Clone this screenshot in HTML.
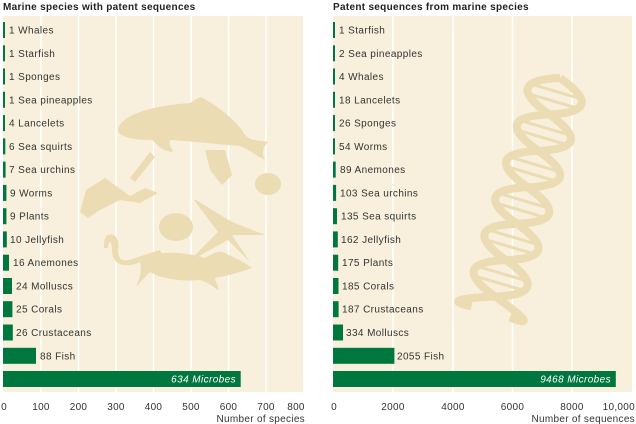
<!DOCTYPE html>
<html><head><meta charset="utf-8"><style>
html,body{margin:0;padding:0;background:#fff;}
svg{display:block;font-family:"Liberation Sans",sans-serif;}
</style></head><body>
<svg width="636" height="424" viewBox="0 0 636 424" xmlns="http://www.w3.org/2000/svg">
<!-- Left panel -->
<text x="3" y="10" font-size="10" font-weight="bold" fill="#222" letter-spacing="0.3">Marine species with patent sequences</text>
<rect x="3" y="16" width="300" height="376" fill="#f8f0dc"/>
<g stroke="#fff" stroke-width="1.5">
<line x1="41" y1="16" x2="41" y2="392"/><line x1="78.5" y1="16" x2="78.5" y2="392"/><line x1="116" y1="16" x2="116" y2="392"/><line x1="153.5" y1="16" x2="153.5" y2="392"/><line x1="191" y1="16" x2="191" y2="392"/><line x1="228.5" y1="16" x2="228.5" y2="392"/><line x1="266" y1="16" x2="266" y2="392"/>
</g>
<g fill="#ebdcb3">
<path d="M118,128 C125,112 160,105 190,103 C198,98 200,96 203,98 C215,105 235,118 245,135 C252,142 260,140 268,142 C262,148 262,155 265,160 C255,155 250,150 240,146 C225,145 200,142 170,140 C168,148 175,150 172,152 C160,150 158,145 152,140 C130,140 116,136 118,128Z"/>
<path d="M145,258 C160,250 185,252 205,258 C215,252 220,250 225,253 C235,258 245,262 252,268 C240,272 228,276 215,278 C215,282 220,288 218,290 C212,286 208,282 200,280 C180,282 160,278 150,272 C142,280 138,285 136,287 C140,278 142,270 140,262 Z"/>
<path d="M196,200 L232,222 L265,235 L232,235 L250,262 L228,240 L188,262 L218,232 L194,200 Z"/>
<ellipse cx="176" cy="227" rx="17" ry="14"/>
<ellipse cx="268" cy="184" rx="13" ry="11"/>
<path d="M86,190 L105,178 L130,196 L145,188 L158,193 L140,203 L120,200 L100,210 L88,218 L80,212 Z"/>
<path d="M130,178 L150,152 L155,157 L135,182Z"/>
<path d="M205,150 L225,150 L232,175 L222,185 L210,170Z"/>
<path d="M108,235 C115,232 120,240 118,250 C118,262 125,262 135,258 L160,250 L162,254 L135,264 C120,268 112,262 112,250 C112,240 108,240 108,248 L104,248 C104,240 105,236 108,235Z"/>
</g>
<g fill="#00773f">
<rect x="3" y="22" width="2" height="16"/><rect x="3" y="45.3" width="2" height="16"/><rect x="3" y="68.5" width="2" height="16"/><rect x="3" y="91.8" width="2" height="16"/>
<rect x="3" y="115.1" width="2" height="16"/><rect x="3" y="138.4" width="2.3" height="16"/><rect x="3" y="161.6" width="2.6" height="16"/><rect x="3" y="184.9" width="3.4" height="16"/>
<rect x="3" y="208.2" width="3.4" height="16"/><rect x="3" y="231.4" width="3.8" height="16"/><rect x="3" y="254.7" width="6" height="16"/><rect x="3" y="278" width="9" height="16"/>
<rect x="3" y="301.2" width="9.4" height="16"/><rect x="3" y="324.5" width="9.8" height="16"/><rect x="3" y="347.8" width="33" height="16"/><rect x="3" y="371" width="237.7" height="16"/>
</g>
<g font-size="10" fill="#333" letter-spacing="0.4">
<text x="9" y="33.5">1 Whales</text><text x="9" y="56.8">1 Starfish</text><text x="9" y="80">1 Sponges</text><text x="9" y="103.3">1 Sea pineapples</text>
<text x="9" y="126.6">4 Lancelets</text><text x="9" y="149.9">6 Sea squirts</text><text x="9" y="173.1">7 Sea urchins</text><text x="10" y="196.4">9 Worms</text>
<text x="10" y="219.7">9 Plants</text><text x="10" y="242.9">10 Jellyfish</text><text x="13" y="266.2">16 Anemones</text><text x="16" y="289.5">24 Molluscs</text>
<text x="16" y="312.7">25 Corals</text><text x="16" y="336">26 Crustaceans</text><text x="40" y="359.3">88 Fish</text>
<text x="236" y="382.5" fill="#fff" font-style="italic" text-anchor="end">634 Microbes</text>
</g>
<g font-size="10" fill="#333" text-anchor="middle" letter-spacing="0.3">
<text x="4" y="410">0</text><text x="41" y="410">100</text><text x="78.5" y="410">200</text><text x="116" y="410">300</text><text x="153.5" y="410">400</text><text x="191" y="410">500</text><text x="228.5" y="410">600</text><text x="266" y="410">700</text><text x="296" y="410">800</text>
<text x="305" y="422" text-anchor="end">Number of species</text>
</g>

<!-- Right panel -->
<text x="333" y="10" font-size="10" font-weight="bold" fill="#222" letter-spacing="0.3">Patent sequences from marine species</text>
<rect x="333" y="16" width="299" height="376" fill="#f8f0dc"/>
<g stroke="#fff" stroke-width="1.5">
<line x1="393" y1="16" x2="393" y2="392"/><line x1="453" y1="16" x2="453" y2="392"/><line x1="512.5" y1="16" x2="512.5" y2="392"/><line x1="572" y1="16" x2="572" y2="392"/>
</g>
<g transform="translate(560,78) rotate(106.5)" fill="none" stroke="#ebdcb3" stroke-width="8">
<path d="M0,0 Q19,-56 38,0 T76,0 T114,0 T152,0 T190,0 T228,0 T244,-20"/>
<path d="M0,0 Q19,56 38,0 T76,0 T114,0 T152,0 T190,0 T228,0 T244,20"/>
<g stroke-width="3">
<line x1="14" y1="-22" x2="14" y2="22"/><line x1="24" y1="-22" x2="24" y2="22"/><line x1="52" y1="-22" x2="52" y2="22"/><line x1="62" y1="-22" x2="62" y2="22"/>
<line x1="90" y1="-22" x2="90" y2="22"/><line x1="100" y1="-22" x2="100" y2="22"/><line x1="128" y1="-22" x2="128" y2="22"/><line x1="138" y1="-22" x2="138" y2="22"/>
<line x1="166" y1="-22" x2="166" y2="22"/><line x1="176" y1="-22" x2="176" y2="22"/><line x1="204" y1="-22" x2="204" y2="22"/><line x1="214" y1="-22" x2="214" y2="22"/>
</g>
</g>
<g fill="#00773f">
<rect x="333" y="22" width="2" height="16"/><rect x="333" y="45.3" width="2" height="16"/><rect x="333" y="68.5" width="2" height="16"/><rect x="333" y="91.8" width="2" height="16"/>
<rect x="333" y="115.1" width="2" height="16"/><rect x="333" y="138.4" width="2" height="16"/><rect x="333" y="161.6" width="2.7" height="16"/><rect x="333" y="184.9" width="3.1" height="16"/>
<rect x="333" y="208.2" width="4" height="16"/><rect x="333" y="231.4" width="4.8" height="16"/><rect x="333" y="254.7" width="5.2" height="16"/><rect x="333" y="278" width="5.5" height="16"/>
<rect x="333" y="301.2" width="5.6" height="16"/><rect x="333" y="324.5" width="10" height="16"/><rect x="333" y="347.8" width="61.4" height="16"/><rect x="333" y="371" width="282.8" height="16"/>
</g>
<g font-size="10" fill="#333" letter-spacing="0.4">
<text x="339" y="33.5">1 Starfish</text><text x="339" y="56.8">2 Sea pineapples</text><text x="339" y="80">4 Whales</text><text x="339" y="103.3">18 Lancelets</text>
<text x="339" y="126.6">26 Sponges</text><text x="339" y="149.9">54 Worms</text><text x="340" y="173.1">89 Anemones</text><text x="340" y="196.4">103 Sea urchins</text>
<text x="341" y="219.7">135 Sea squirts</text><text x="341" y="242.9">162 Jellyfish</text><text x="342" y="266.2">175 Plants</text><text x="342" y="289.5">185 Corals</text>
<text x="342" y="312.7">187 Crustaceans</text><text x="346" y="336">334 Molluscs</text><text x="397" y="359.3">2055 Fish</text>
<text x="611" y="382.5" fill="#fff" font-style="italic" text-anchor="end">9468 Microbes</text>
</g>
<g font-size="10" fill="#333" text-anchor="middle" letter-spacing="0.3">
<text x="334" y="410">0</text><text x="393" y="410">2000</text><text x="453" y="410">4000</text><text x="512.5" y="410">6000</text><text x="572" y="410">8000</text>
<text x="635" y="410" text-anchor="end">10,000</text>
<text x="635" y="422" text-anchor="end">Number of sequences</text>
</g>
</svg>
</body></html>
